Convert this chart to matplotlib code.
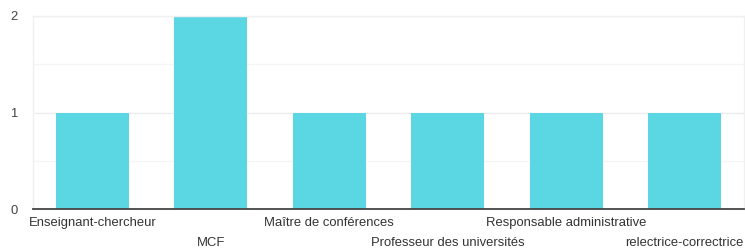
import matplotlib
matplotlib.use("Agg")
import matplotlib.pyplot as plt

categories = ["Enseignant-chercheur", "MCF", "Maître de conférences",
              "Professeur des universités", "Responsable administrative",
              "relectrice-correctrice"]
values = [1, 2, 1, 1, 1, 1]
yticks = [0, 1, 2]

plt.rcParams['font.family'] = ['Liberation Sans', 'DejaVu Sans']

fig = plt.figure(figsize=(7.45, 2.52), dpi=100)
ax = fig.add_axes([33/745, 1 - 209/252, 711/745, 193/252])

x = list(range(len(categories)))
ax.bar(x, values, width=0.62, color="#5bd6e3", zorder=2)
ax.set_xlim(-0.5, len(categories) - 0.5)
ax.set_ylim(0, 2)

for yv in [0.5, 1, 1.5, 2]:
    ax.axhline(yv, color="#ececec" if yv in (1, 2) else "#f5f5f5", lw=1, zorder=1)

for s in ["top", "right", "left"]:
    ax.spines[s].set_color("#f0f0f0")
    ax.spines[s].set_linewidth(1)
ax.spines["bottom"].set_color("#444444")
ax.spines["bottom"].set_linewidth(1.3)
ax.spines["bottom"].set_zorder(3)

ax.set_yticks(yticks)
ax.set_yticklabels([str(v) for v in yticks], color="#444444", fontsize=9.4)
ax.tick_params(axis="y", length=0, pad=11)

ax.set_xticks(x)
ax.set_xticklabels([])
ax.tick_params(axis="x", length=0)
for i, c in enumerate(categories):
    ax.annotate(c, xy=(i, 0), xycoords=("data", "axes fraction"),
                xytext=(0, -6 if i % 2 == 0 else -20.5), textcoords="offset points",
                ha="center", va="top", fontsize=9.4, color="#333333")

fig.savefig("out.png", dpi=100)
